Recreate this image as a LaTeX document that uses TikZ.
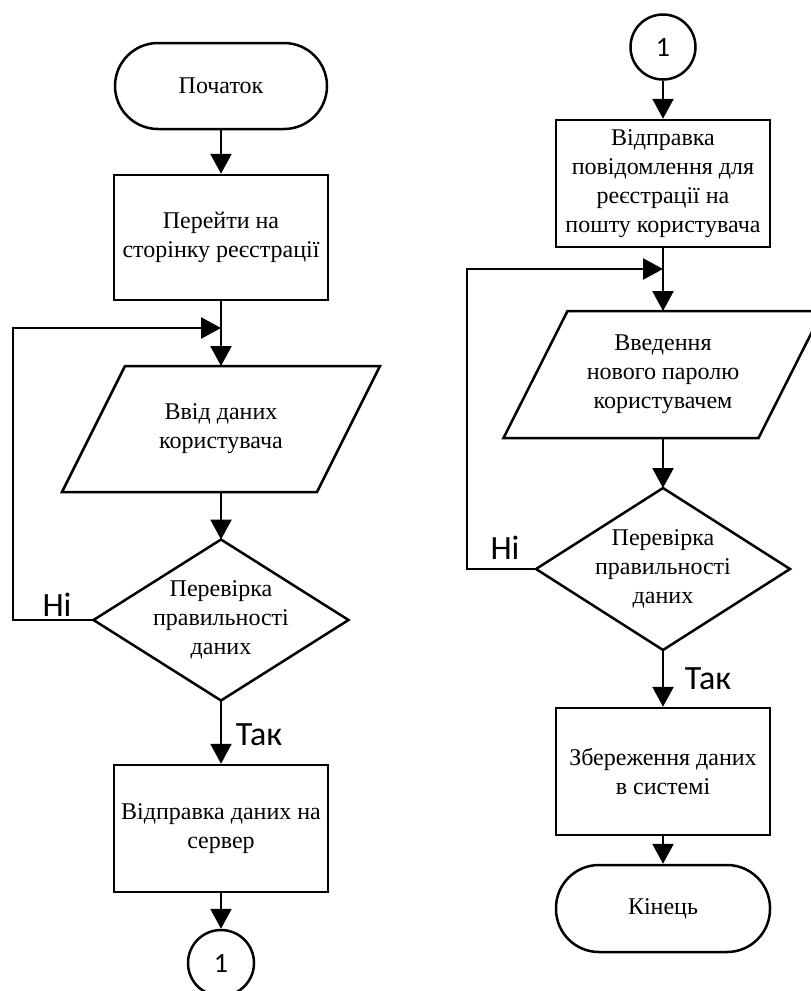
\documentclass[tikz,border=0pt]{standalone}
\usepackage{fontspec}
\setmainfont{Liberation Serif}
\newfontfamily\labelfont{Carlito}
\usetikzlibrary{arrows.meta}
\begin{document}
\begin{tikzpicture}[x=1pt,y=-1pt,
  line width=2.5pt,
  txt/.style={font=\fontsize{24}{29}\selectfont, align=center},
  box/.style={txt, draw, rectangle, minimum width=214pt, inner sep=0pt},
  term/.style={txt, draw, rectangle, rounded corners=43pt, minimum width=212pt, minimum height=86pt, inner sep=0pt},
  ghost/.style={txt, rectangle, minimum width=255pt, inner sep=0pt, outer sep=0pt},
  conn/.style={draw, circle, minimum size=65pt, inner sep=0pt, font=\labelfont\fontsize{28}{28}\selectfont},
  arr/.style={-{Triangle[length=20pt,width=21pt]}},
  lbl/.style={font=\labelfont\fontsize{34}{34}\selectfont, inner sep=0pt}
]
\path[use as bounding box, fill=white] (0,0) rectangle (811,991);

% ---------- left column ----------
\node[term] (t1) at (221,86) {Початок};
\node[box, minimum height=125pt] (r1) at (221,237.5) {Перейти на\\сторінку реєстрації};
\node[ghost, minimum height=126pt] (p1) at (221,429) {Ввід даних\\користувача};
\draw ([xshift=31.5pt]p1.north west) -- ([xshift=31.5pt]p1.north east)
   -- ([xshift=-31.5pt]p1.south east) -- ([xshift=-31.5pt]p1.south west) -- cycle;
\node[ghost, minimum height=161pt] (d1) at (221,620) {Перевірка\\правильності\\даних};
\draw (d1.north) -- (d1.east) -- (d1.south) -- (d1.west) -- cycle;
\node[box, minimum height=127pt] (r2) at (221,828.5) {Відправка даних на\\сервер};
\node[conn, minimum size=66pt] (c1) at (221,963) {1};

\coordinate (j1) at (221,328);
\coordinate (l1) at (13,328);

\draw[arr] (t1) -- (r1);
\draw[arr] (r1) -- (p1);
\draw[arr] (p1) -- (d1);
\draw[arr] (d1.west) -| (l1) -- (j1);
\draw[arr] (d1) -- (r2);
\draw[arr] (r2) -- (c1);
\node[lbl] (n1) at (57,605) {Ні};
\node[lbl] (y1) at (259,735) {Так};

% ---------- right column ----------
\node[conn] (c2) at (663,47) {1};
\node[box, minimum height=127pt] (r3) at (663,183.5) {Відправка\\повідомлення для\\реєстрації на\\пошту користувача};
\node[ghost, minimum height=127pt] (p2) at (663,374.5) {Введення\\нового паролю\\користувачем};
\draw ([xshift=32pt]p2.north west) -- ([xshift=32pt]p2.north east)
   -- ([xshift=-32pt]p2.south east) -- ([xshift=-32pt]p2.south west) -- cycle;
\node[ghost, minimum width=254pt, minimum height=162pt] (d2) at (663,569) {Перевірка\\правильності\\даних};
\draw (d2.north) -- (d2.east) -- (d2.south) -- (d2.west) -- cycle;
\node[box, minimum height=127pt] (r4) at (663,771.5) {Збереження даних\\в системі};
\node[term, minimum width=214pt, minimum height=87pt] (t2) at (663,908.5) {Кінець};

\coordinate (j2) at (663,269);
\coordinate (l2) at (467,269);

\draw[arr] (c2) -- (r3);
\draw[arr] (r3) -- (p2);
\draw[arr] (p2) -- (d2);
\draw[arr] (d2.west) -| (l2) -- (j2);
\draw[arr] (d2) -- (r4);
\draw[arr] (r4) -- (t2);
\node[lbl] (n2) at (505,548) {Ні};
\node[lbl] (y2) at (708,679) {Так};
\end{tikzpicture}
\end{document}
